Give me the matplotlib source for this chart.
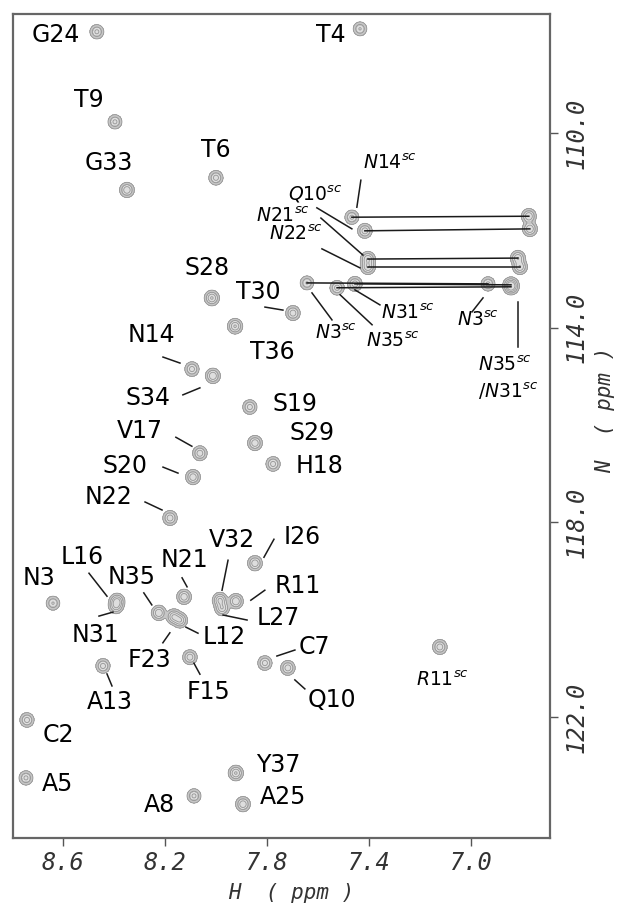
import numpy as np
import matplotlib
matplotlib.use("Agg")
import matplotlib.pyplot as plt

# backbone amide peaks (1H ppm, 15N ppm, relative intensity)
residues = ["G24", "T4", "T9", "G33", "T6", "S28", "T30", "T36", "N14", "S34",
            "S19", "S29", "H18", "V17", "S20", "N22", "I26", "V32", "R11", "L27",
            "N3", "L16", "N31", "N35", "N21", "F23", "L12", "F15", "A13", "C7",
            "Q10", "C2", "A5", "Y37", "A8", "A25"]
h_ppm = [8.467, 7.435, 8.396, 8.349, 8.000, 8.016, 7.698, 7.925, 8.094, 8.012,
         7.867, 7.847, 7.776, 8.063, 8.090, 8.180, 7.847, 7.984, 7.922, 7.976,
         8.639, 8.388, 8.392, 8.224, 8.125, 8.165, 8.141, 8.102, 8.443, 7.808,
         7.718, 8.741, 8.745, 7.922, 8.086, 7.894]
n_ppm = [107.92, 107.86, 109.77, 111.17, 110.92, 113.39, 113.70, 113.97, 114.85, 114.99,
         115.63, 116.37, 116.80, 116.58, 117.07, 117.91, 118.84, 119.60, 119.62, 119.76,
         119.66, 119.62, 119.72, 119.86, 119.53, 119.94, 120.01, 120.77, 120.95, 120.89,
         120.99, 122.06, 123.25, 123.15, 123.62, 123.79]
height = [0.9, 0.8, 0.9, 1.2, 1.0, 1.4, 1.1, 1.4, 1.0, 1.3,
          1.0, 1.2, 1.0, 1.1, 1.2, 1.1, 1.2, 1.5, 1.3, 1.3,
          0.8, 1.6, 1.2, 1.3, 1.2, 1.5, 1.4, 1.1, 1.0, 1.0,
          1.1, 1.0, 0.9, 1.4, 0.9, 1.2]

# side-chain NH2 pairs
sc_names = ["N14", "Q10", "N21", "N22", "N3", "N35", "N31"]
sc_h_a = [7.467, 7.416, 7.404, 7.404, 7.643, 7.525, 7.455]
sc_n_a = [111.73, 112.01, 112.59, 112.75, 113.08, 113.18, 113.10]
sc_h_b = [6.773, 6.769, 6.816, 6.808, 6.933, 6.843, 6.843]
sc_n_b = [111.71, 111.97, 112.57, 112.75, 113.10, 113.16, 113.12]
sc_height_a = [0.9, 1.1, 1.3, 1.3, 0.8, 1.0, 1.1]
sc_height_b = [1.3, 1.3, 1.3, 1.3, 0.9, 1.5, 1.2]

# arginine side chain
r11sc_h, r11sc_n = 7.122, 120.56

# ---- layout (pixel offsets from the peak: dx right, dy down) ----
label_off = {
    "G24": (-41, 3), "T4": (-29, 6), "T9": (-26, -22), "G33": (-18, -27),
    "T6": (0, -28), "S28": (-5, -30), "T30": (-35, -21), "T36": (37, 26),
    "N14": (-41, -34), "S34": (-65, 22), "S19": (45, -3), "S29": (57, -10),
    "H18": (47, 2), "V17": (-60, -22), "S20": (-68, -11), "N22": (-62, -21),
    "I26": (47, -26), "V32": (12, -60), "R11": (62, -15), "L27": (56, 10),
    "N3": (-14, -25), "L16": (-35, -44), "N31": (-21, 29), "N35": (-27, -36),
    "N21": (0, -37), "F23": (-24, 43), "L12": (44, 17), "F15": (19, 35),
    "A13": (7, 36), "C7": (49, -16), "Q10": (44, 32), "C2": (31, 15),
    "A5": (32, 6), "Y37": (42, -8), "A8": (-35, 9), "A25": (40, -7),
}
leaders = {
    "T30": (-28, -6, -10, -3), "N14": (-29, -12, -12, -6), "S34": (-30, 19, -13, 12),
    "V17": (-24, -16, -8, -7), "S20": (-30, -10, -15, -4), "N22": (-25, -16, -8, -8),
    "I26": (9, -6, 19, -24), "V32": (8, -40, 2, -10), "R11": (15, -1, 29, -11),
    "L27": (1, 7, 25, 12), "L16": (-28, -28, -10, -5), "N31": (-17, 10, -3, 6),
    "N35": (-15, -20, -7, -8), "N21": (-2, -19, 3, -10), "F23": (-11, 26, -4, 16),
    "L12": (6, 7, 18, 13), "F15": (4, 6, 10, 17), "A13": (4, 8, 9, 20),
    "C7": (12, -7, 30, -13), "Q10": (7, 12, 17, 21),
}
sc_label_off = {"N14": (38, -54), "Q10": (-50, -37), "N21": (-85, -43),
                "N22": (-72, -33), "N3": (29, 50), "N35": (56, 54), "N31": (53, 29)}
sc_leaders = {"N14": (9, -37, 5, -10), "Q10": (-48, -23, -13, -2),
              "N21": (-47, -41, -5, -4), "N22": (-46, -18, -8, 1),
              "N3": (5, 10, 25, 37), "N35": (3, 7, 35, 37), "N31": (0, 6, 25, 21)}

W, H = 619, 907
fig = plt.figure(figsize=(W / 100, H / 100), dpi=100)
ax = fig.add_axes([12.7 / W, 1 - 838 / H, (550 - 12.7) / W, (838 - 14) / H])
ax.set_xlim(8.797, 6.690)
ax.set_ylim(124.485, 107.555)

# contour spectrum built from the peak list
hx = np.linspace(6.69, 8.80, 1100)
ny = np.linspace(107.5, 124.5, 1700)
sx, sy = 0.013, 0.07
Z = np.zeros((ny.size, hx.size))
all_h = h_ppm + sc_h_a + sc_h_b + [r11sc_h]
all_n = n_ppm + sc_n_a + sc_n_b + [r11sc_n]
all_a = height + sc_height_a + sc_height_b + [1.1]
for h, n, a in zip(all_h, all_n, all_a):
    Z += a * np.outer(np.exp(-0.5 * ((ny - n) / sy) ** 2),
                      np.exp(-0.5 * ((hx - h) / sx) ** 2))
ax.contourf(hx, ny, Z, levels=[0.1, 0.6, 100], colors=["#c6c6c6", "#dedede"], zorder=1)
ax.contour(hx, ny, Z, levels=[0.1, 0.35, 0.75, 1.3], colors="#959595",
           linewidths=0.6, zorder=2)


def shifted(h, n, dx, dy):
    p = ax.transData.transform((h, n)) + np.array([dx, -dy])
    return ax.transData.inverted().transform(p)


def leader(h, n, seg):
    p1 = shifted(h, n, seg[0], seg[1])
    p2 = shifted(h, n, seg[2], seg[3])
    ax.plot([p1[0], p2[0]], [p1[1], p2[1]], color="#1a1a1a", lw=1.1, zorder=3)


lab_kw = dict(textcoords="offset pixels", ha="center", va="center", zorder=4)

for name, h, n in zip(residues, h_ppm, n_ppm):
    dx, dy = label_off[name]
    ax.annotate(name, (h, n), xytext=(dx, -dy), fontsize=17, **lab_kw)
    if name in leaders:
        leader(h, n, leaders[name])

# side-chain pairs
for i, name in enumerate(sc_names):
    ax.plot([sc_h_a[i], sc_h_b[i]], [sc_n_a[i], sc_n_b[i]], color="#1a1a1a", lw=1.1, zorder=3)
    dx, dy = sc_label_off[name]
    ax.annotate(r"$\mathit{%s}^{\mathit{sc}}$" % name, (sc_h_a[i], sc_n_a[i]),
                xytext=(dx, -dy), fontsize=13.5, **lab_kw)
    leader(sc_h_a[i], sc_n_a[i], sc_leaders[name])

# right-hand partners
i3 = sc_names.index("N3")
ax.annotate(r"$\mathit{N3}^{\mathit{sc}}$", (sc_h_b[i3], sc_n_b[i3]),
            xytext=(-10, -36), fontsize=13.5, **lab_kw)
leader(sc_h_b[i3], sc_n_b[i3], (-5, 14, -16, 28))
i35 = sc_names.index("N35")
ax.annotate(r"$\mathit{N35}^{\mathit{sc}}$" + "\n" + r"$\mathit{/N31}^{\mathit{sc}}$",
            (sc_h_b[i35], sc_n_b[i35]), xytext=(-33, -92), fontsize=13.5,
            textcoords="offset pixels", ha="left", va="center", linespacing=1.3, zorder=4)
leader(sc_h_b[i35], sc_n_b[i35], (7, 15, 7, 60))

ax.annotate(r"$\mathit{R11}^{\mathit{sc}}$", (r11sc_h, r11sc_n), xytext=(3, -33),
            fontsize=13.5, **lab_kw)

# axes styling
for s in ax.spines.values():
    s.set_color("#666666")
    s.set_linewidth(1.6)
ax.yaxis.tick_right()
ax.set_xticks([8.6, 8.2, 7.8, 7.4, 7.0])
ax.set_xticklabels(["8.6", "8.2", "7.8", "7.4", "7.0"],
                   fontfamily="DejaVu Sans Mono", fontstyle="oblique", fontsize=17)
ax.set_yticks([110, 114, 118, 122])
ax.set_yticklabels(["110.0", "114.0", "118.0", "122.0"],
                   fontfamily="DejaVu Sans Mono", fontstyle="oblique", fontsize=17,
                   rotation=90, va="center")
ax.tick_params(axis="x", bottom=True, top=False, direction="out", length=5.5,
               width=1, color="#555555", pad=4, labelcolor="#333333")
ax.tick_params(axis="y", right=True, left=False, direction="out", length=5.5,
               width=1, color="#555555", pad=5, labelcolor="#333333")

fig.text(291 / W, 1 - 893 / H, "H  ( ppm )", fontfamily="DejaVu Sans Mono",
         fontstyle="oblique", fontsize=15, ha="center", va="center", color="#333333")
fig.text(605 / W, 1 - 410 / H, "N  ( ppm )", fontfamily="DejaVu Sans Mono",
         fontstyle="oblique", fontsize=15, ha="center", va="center", rotation=90,
         color="#333333")

fig.savefig("out.png", dpi=100)
